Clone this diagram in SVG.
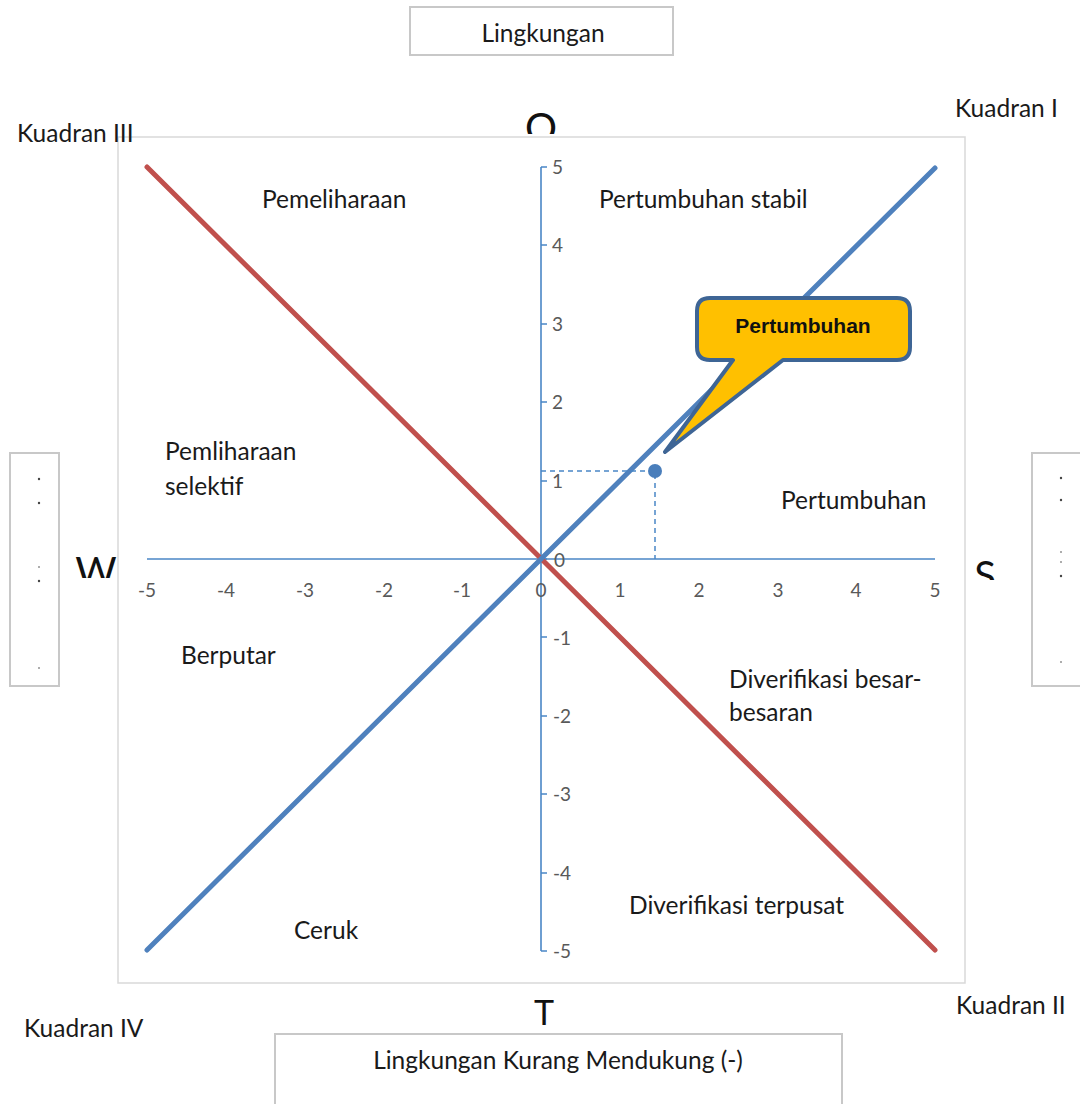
<svg xmlns="http://www.w3.org/2000/svg" width="1080" height="1104" viewBox="0 0 1080 1104">
<defs>
<style>
.lbl{font-family:Lato,"Liberation Sans",sans-serif;font-size:24.5px;fill:#1a1a1a}
.ax{font-family:Lato,"Liberation Sans",sans-serif;font-size:19px;fill:#595959}
.big{font-family:Lato,"Liberation Sans",sans-serif;font-size:34px;fill:#111}
.huge{font-family:Lato,"Liberation Sans",sans-serif;font-size:40px;fill:#111}
.box{fill:#fff;stroke:#c8c8c8;stroke-width:2}
.axis{stroke:#4a86c6;stroke-width:1.6;fill:none}
.dot{fill:#444}
</style>
<clipPath id="cTop"><rect x="0" y="0" width="1080" height="47"/></clipPath>
<clipPath id="cO"><rect x="0" y="0" width="1080" height="134"/></clipPath>
<clipPath id="cW"><rect x="0" y="0" width="1080" height="578"/></clipPath>
<clipPath id="cS"><rect x="0" y="0" width="1080" height="580"/></clipPath>
</defs>
<rect width="1080" height="1104" fill="#fff"/>

<g id="box-top">
<rect class="box" x="410" y="7" width="263" height="48"/>
<text class="lbl" x="543" y="42" text-anchor="middle" clip-path="url(#cTop)">Lingkungan</text>
</g>

<g id="letter-O"><text class="huge" x="541" y="142" text-anchor="middle" clip-path="url(#cO)">O</text></g>

<g id="frame"><rect x="118" y="137" width="847" height="846" fill="none" stroke="#d9d9d9" stroke-width="1.5"/></g>

<g id="box-left">
<rect class="box" x="10" y="453" width="49" height="233"/>
<circle class="dot" cx="39" cy="479" r="1.2"/><circle class="dot" cx="39" cy="503" r="1.2"/>
<circle class="dot" cx="39" cy="567" r="0.8"/><circle class="dot" cx="39" cy="581" r="1.2"/>
<circle class="dot" cx="39" cy="668" r="0.8"/>
</g>
<g id="box-right">
<rect class="box" x="1032" y="453" width="60" height="233"/>
<circle class="dot" cx="1061" cy="478" r="1.2"/><circle class="dot" cx="1061" cy="500" r="1.2"/>
<circle class="dot" cx="1061" cy="552" r="0.8"/><circle class="dot" cx="1061" cy="562" r="0.8"/><circle class="dot" cx="1061" cy="576" r="1.2"/>
<circle class="dot" cx="1061" cy="662" r="0.8"/>
</g>
<g id="letter-W"><text class="huge" x="96" y="586" text-anchor="middle" clip-path="url(#cW)">W</text></g>
<g id="letter-S"><text class="huge" x="985" y="590" text-anchor="middle" clip-path="url(#cS)">S</text></g>

<g id="axes">
<line class="axis" x1="147" y1="559" x2="935" y2="559"/>
<line class="axis" x1="541" y1="167" x2="541" y2="951"/>
<path class="axis" d="M541 167h6M541 245h6M541 324h6M541 402h6M541 481h6M541 559h6M541 637h6M541 716h6M541 794h6M541 873h6M541 951h6"/>
<g class="ax">
<text x="552" y="174">5</text><text x="552" y="252">4</text><text x="552" y="331">3</text>
<text x="552" y="409">2</text><text x="552" y="488">1</text><text x="554" y="567">0</text>
<text x="553" y="645">-1</text><text x="553" y="723">-2</text><text x="553" y="801">-3</text>
<text x="553" y="880">-4</text><text x="553" y="958">-5</text>
</g>
<g class="ax" text-anchor="middle">
<text x="147" y="597">-5</text><text x="226" y="597">-4</text><text x="305" y="597">-3</text>
<text x="384" y="597">-2</text><text x="462" y="597">-1</text><text x="541" y="597">0</text>
<text x="620" y="597">1</text><text x="699" y="597">2</text><text x="778" y="597">3</text>
<text x="856" y="597">4</text><text x="935" y="597">5</text>
</g>
</g>

<g id="connectors">
<line x1="147" y1="167" x2="935" y2="950" stroke="#c0504d" stroke-width="5" stroke-linecap="round"/>
<line x1="147" y1="950" x2="935" y2="168" stroke="#4f81bd" stroke-width="5" stroke-linecap="round"/>
<path d="M541 471H655V559" fill="none" stroke="#4a86c6" stroke-width="1.5" stroke-dasharray="5,4"/>
</g>

<g id="point"><circle cx="655" cy="471" r="7" fill="#4a7ebb"/></g>

<g id="callout">
<path d="M710 298H897Q910 298 910 311V347Q910 360 897 360H783L665 452L733 360H710Q697 360 697 347V311Q697 298 710 298Z" fill="#ffc000" stroke="#3e6595" stroke-width="4" stroke-linejoin="round"/>
<text x="803" y="333" text-anchor="middle" font-family="'Liberation Sans',sans-serif" font-weight="bold" font-size="21" fill="#111">Pertumbuhan</text>
</g>

<g id="quadrant-labels">
<text class="lbl" x="262" y="208">Pemeliharaan</text>
<text class="lbl" x="599" y="208">Pertumbuhan stabil</text>
<text class="lbl" x="165" y="460">Pemliharaan</text>
<text class="lbl" x="165" y="495">selektif</text>
<text class="lbl" x="781" y="509">Pertumbuhan</text>
<text class="lbl" x="181" y="664">Berputar</text>
<text class="lbl" x="729" y="688">Diverifikasi besar-</text>
<text class="lbl" x="729" y="721">besaran</text>
<text class="lbl" x="629" y="914">Diverifikasi terpusat</text>
<text class="lbl" x="294" y="939">Ceruk</text>
</g>

<g id="kuadran">
<text class="lbl" x="17" y="142">Kuadran III</text>
<text class="lbl" x="955" y="117">Kuadran I</text>
<text class="lbl" x="956" y="1014">Kuadran II</text>
<text class="lbl" x="24" y="1037">Kuadran IV</text>
</g>

<g id="letter-T"><text class="big" x="544" y="1025" text-anchor="middle">T</text></g>

<g id="box-bottom">
<rect class="box" x="275" y="1034" width="567" height="80"/>
<text class="lbl" x="558" y="1069" text-anchor="middle">Lingkungan Kurang Mendukung (-)</text>
</g>
</svg>
